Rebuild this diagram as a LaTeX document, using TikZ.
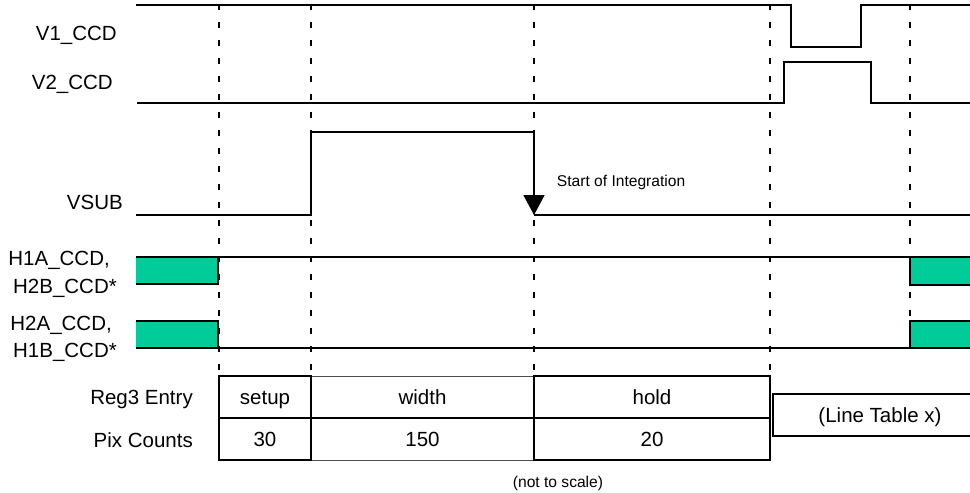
\documentclass[tikz,border=0pt]{standalone}
\usepackage{fontspec}
\setmainfont{Liberation Sans}
\usetikzlibrary{arrows.meta}
\definecolor{hgreen}{HTML}{00CC99}
\newcommand\lblsize{\fontsize{20.5}{24}\selectfont}
\newcommand\notesize{\fontsize{15.6}{18}\selectfont}
\begin{document}
\begin{tikzpicture}[x=1pt,y=-1pt,
    signal/.style={line width=1.6pt},
    guide/.style={line width=1.6pt,dash pattern=on 5.5pt off 12.5pt},
    lbl/.style={anchor=base east,inner sep=0pt,font=\lblsize},
    note/.style={anchor=base west,inner sep=0pt,font=\notesize},
    cell/.style={draw,line width=2.2pt,inner sep=0pt,outer sep=0pt,anchor=north west,
      minimum height=42pt,text height=16pt,text depth=2pt,font=\lblsize},
    thincell/.style={cell,line width=1pt,draw=black!70}]
      \useasboundingbox (0,0) rectangle (970,493);
      \foreach \x in {219,311,534,770}
        \draw[guide] (\x,4) -- (\x,376);
      \draw[guide] (910,4) -- (910,321);
      \coordinate (intTop) at (534,132);
      \coordinate (intBot) at (534,215);
      \draw[signal] (136,5) -- (791,5) -- (791,47) -- (861,47) -- (861,5) -- (970,5);
      \draw[signal] (137,103) -- (784,103) -- (784,62) -- (871,62) -- (871,103) -- (970,103);
      \draw[signal] (136,215) -- (311,215) -- (311,132) -- (intTop);
      \draw[signal] (intBot) -- (970,215);
      \draw[signal,-{Triangle[width=21pt,length=20pt]}] (intTop) -- (intBot);
      \fill[hgreen] (136,257) rectangle (218,284);
      \fill[hgreen] (910,257) rectangle (970,285);
      \draw[signal] (136,284) -- (218,284) -- (218,257);
      \draw[signal] (136,257) -- (970,257);
      \draw[signal] (910,257) -- (910,285) -- (970,285);
      \fill[hgreen] (136,321) rectangle (218,348);
      \fill[hgreen] (910,321) rectangle (970,349);
      \draw[signal] (136,321) -- (218,321) -- (218,348);
      \draw[signal] (136,348) -- (970,348);
      \draw[signal] (970,321) -- (910,321) -- (910,348);
      \node[lbl] (v1) at (117,40.7) {V1\_CCD};
      \node[lbl] (v2) at (113,89) {V2\_CCD};
      \node[lbl] (vsub) at (123,209) {VSUB};
      \node[lbl] (h1a) at (110,265) {H1A\_CCD,};
      \node[lbl] (h2b) at (117,293) {H2B\_CCD*};
      \node[lbl] (h2a) at (112,330) {H2A\_CCD,};
      \node[lbl] (h1b) at (117,357) {H1B\_CCD*};
      \node[lbl] (reg3) at (193,404) {Reg3 Entry};
      \node[lbl] (pix) at (193,447) {Pix Counts};
      \node[note] (integ) at (556.7,186.7) {Start of Integration};
      \node[thincell,minimum width=223pt] (width) at (311,376) {width};
      \node[thincell,minimum width=223pt] (count150) at (311,418) {150};
      \draw[line width=2.2pt] (width.south west) -- (width.south east);
      \node[cell,minimum width=92pt] (setup) at (219,376) {setup};
      \node[cell,minimum width=92pt] (count30) at (219,418) {30};
      \node[cell,minimum width=236pt] (hold) at (534,376) {hold};
      \node[cell,minimum width=236pt] (count20) at (534,418) {20};
      \node[cell,minimum width=214pt] (linetab) at (773,394) {(Line Table x)};
      \node[note,anchor=base] (scale) at (558,487) {(not to scale)};
    \end{tikzpicture}
\end{document}
